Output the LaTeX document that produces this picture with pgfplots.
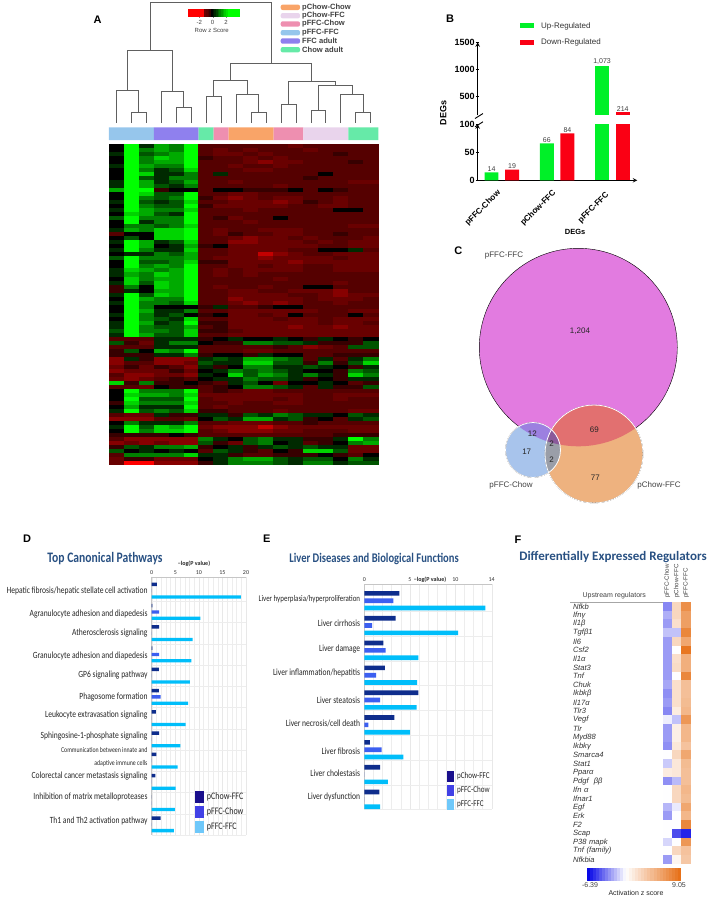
\documentclass[border=0pt]{standalone}
\usepackage{fontspec}
\usepackage{pgfplots}
\usepackage{pgfplotstable}
\pgfplotsset{compat=1.18}
\setmainfont{Liberation Sans}
\newfontfamily\calib{Carlito}
\newfontfamily\calibn[FakeStretch=0.8]{Carlito}
\newcommand\fs[1]{\fontsize{#1}{#1}\selectfont}
\definecolor{cUp}{RGB}{0,240,40}
\definecolor{cDown}{RGB}{250,0,20}
\definecolor{barA}{RGB}{14,45,140}
\definecolor{barB}{RGB}{60,95,240}
\definecolor{barC}{RGB}{0,190,250}
\definecolor{legA}{RGB}{25,15,140}
\definecolor{legB}{RGB}{65,65,230}
\definecolor{legC}{RGB}{110,200,250}
\definecolor{ttl}{RGB}{40,80,130}
\definecolor{bOrange}{RGB}{249,164,104}
\definecolor{bLilac}{RGB}{233,212,236}
\definecolor{bPink}{RGB}{238,143,176}
\definecolor{bBlue}{RGB}{150,198,236}
\definecolor{bPurple}{RGB}{143,128,238}
\definecolor{bMint}{RGB}{102,234,168}
\definecolor{vPink}{RGB}{226,123,224}
\definecolor{vBlue}{RGB}{168,196,236}
\definecolor{vOrange}{RGB}{238,178,127}
\definecolor{vPO}{RGB}{226,112,112}
\definecolor{vPB}{RGB}{156,128,224}
\definecolor{vBO}{RGB}{154,158,168}
\definecolor{vAll}{RGB}{138,90,154}

\pgfdeclareplotmark{cell}{\pgfpathrectanglecorners{\pgfpoint{-\cellw}{-\cellh}}{\pgfpoint{\cellw}{\cellh}}\pgfusepathqfill}
\pgfplotsset{
  box/.style n args={4}{anchor=north west, at={(#1pt,-#2pt)}, scale only axis, width=#3pt, height=#4pt},
  heat/.style={scatter, only marks, mark=cell, point meta=explicit, scatter/use mapped color={draw=none, fill=mapped color}},
  rg/.style={colormap={rg}{rgb255(0pt)=(255,0,0); rgb255(2pt)=(135,0,0); rgb255(3pt)=(105,0,0); rgb255(4pt)=(85,0,0); rgb255(5pt)=(55,0,0); rgb255(6pt)=(0,0,0); rgb255(12pt)=(0,255,0)}, point meta min=-6, point meta max=6},
  bwo/.style={colormap={bwo}{rgb255(0pt)=(0,0,230); rgb255(64pt)=(255,255,255); rgb255(154pt)=(230,110,20)}, point meta min=-6.39, point meta max=9.05},
  hbars/.style={
    xbar, y dir=reverse, axis x line*=top, axis y line*=left,
    axis line style={gray!45, line width=.4pt}, major tick length=0pt, minor tick length=0pt,
    ytick pos=left, xminorgrids, minor grid style={gray!14, line width=.3pt},
    xmajorgrids, major grid style={gray!18, line width=.3pt},
    /pgf/number format/assume math mode=true,
    xticklabel style={font=\calib\fs{6}, text=black!80, yshift=-1pt},
    yticklabel style={font=\calibn\fs{9.46}, align=right, inner sep=0pt, xshift=-4pt, text=black!85},
  },
}

% panel A heat map: one line per gene row, 18 samples
\pgfplotstableread{
r c0 c1 c2 c3 c4 c5 c6 c7 c8 c9 c10 c11 c12 c13 c14 c15 c16 c17
0 0 6 1 4 3 6 -2 -2 -2 -2 -2 -2 -3 -2 -2 -2 -2 -2
1 0 6 3 4 3 6 -2 -3 -2 -3 -2 -2 -2 -3 -2 -2 -2 -2
2 1 6 2 3 4 6 -2 -3 -3 -2 -3 -2 -2 -2 -2 -1 -2 -2
3 0 6 3 5 4 6 -1 -2 -2 -3 -2 -3 -2 -2 -2 -2 -2 -2
4 0 6 3 4 4 6 -2 -2 -2 -3 -4 -3 -3 -2 -2 -2 -1 -2
5 1 6 4 3 3 6 -2 -2 -3 -2 -2 -3 -2 -2 -2 -2 -2 -2
6 0 6 3 1 2 5 -2 -2 -2 -3 -3 -2 -2 -2 -2 -2 -2 -2
7 0 6 5 1 1 3 -2 1 -2 -2 -2 -2 -2 -2 0 -2 -2 -2
8 0 6 2 1 3 3 -2 -2 -2 -2 -2 -2 -2 -1 -2 -2 -2 -2
9 1 6 4 1 2 4 -2 -2 -3 -2 -2 -2 -2 -2 -2 -2 -3 -3
10 1 6 4 2 1 3 -2 -2 -2 -2 -2 -3 -2 -2 -2 -2 -2 -2
11 4 6 6 -1 0 0 -2 0 0 -1 -1 -1 0 -2 0 -1 -2 -2
12 0 6 5 2 2 6 -2 -2 -3 -3 -2 -2 -2 -2 -2 -2 -2 -2
13 0 6 3 2 3 6 -1 -3 -4 -3 -2 -3 -3 -2 -2 -3 -2 -2
14 1 6 2 1 2 5 -2 -2 -3 -3 -3 -4 -3 -1 -2 -3 -2 -2
15 0 6 3 2 2 6 -1 -3 -3 -3 -3 -3 -2 -2 -3 -3 -2 -2
16 1 6 4 3 3 5 -2 -2 -2 -3 -2 -2 -2 -2 -2 0 0 -2
17 0 5 4 2 1 6 -2 -2 -2 -2 -2 -2 -2 -2 -2 -2 -2 -2
18 2 6 3 3 3 6 -2 -1 -3 -2 -2 0 -2 -2 -2 -2 -2 -2
19 0 6 1 3 3 6 -2 -2 -2 -3 -2 -2 -2 -2 -2 -2 -2 -2
20 0 3 3 2 3 5 -2 -2 -2 -2 -2 -2 -2 -2 -2 -2 -3 -3
21 1 4 3 5 5 6 -2 -3 -2 -2 -3 -3 -3 -2 -2 -2 -2 -2
22 -2 0 0 5 5 6 -2 -3 -1 -2 -2 -3 -3 -2 -2 -1 -2 -2
23 0 2 0 5 5 6 -2 -2 -3 -4 -3 -3 -2 -3 -2 -2 -2 -3
24 1 6 4 1 2 5 -2 -2 -4 -4 -3 -3 -3 -2 -3 -2 -3 -3
25 0 6 4 0 1 4 -1 0 -3 -3 -3 -3 -3 -3 -2 -2 -3 -3
26 1 6 3 1 1 5 -2 -2 -3 -3 -3 -3 -2 -2 0 0 1 -2
27 0 1 1 3 2 4 -2 -2 -3 -3 -5 -4 -3 -2 -2 -3 -3 -3
28 2 6 3 3 3 4 -2 -3 -3 -3 -4 -3 -3 -3 -3 -2 -3 -3
29 0 6 2 2 3 5 -1 -1 -3 -3 -3 -3 -4 -3 -3 -3 -3 -3
30 0 6 3 4 3 6 -2 -2 -3 -3 -2 -3 -3 -2 -2 -3 -3 -3
31 1 5 4 3 4 6 -2 -3 -2 -3 -3 -3 -3 -2 -2 -3 -3 -3
32 1 4 3 5 4 6 -2 -3 -2 -3 -2 -2 -2 -2 -2 -2 -2 -2
33 0 5 3 4 4 6 -2 -2 -2 -2 -2 -3 -2 -2 -2 -2 -2 -2
34 1 5 2 5 4 6 -2 -2 -2 -2 -2 -2 -2 -2 -2 -3 -2 -2
35 -1 3 0 5 4 6 -2 -3 -2 -2 -3 -2 -2 0 0 -2 -2 -2
36 -1 1 0 4 4 6 -2 -2 -3 -3 -2 -2 -3 -3 -3 -4 -2 -2
37 1 6 2 5 4 6 -2 -2 -3 -3 -3 -3 -2 -2 -3 -4 -3 -3
38 0 6 4 3 3 6 -2 -2 -4 -3 -3 -3 -3 -2 -3 -3 -3 -2
39 1 6 3 3 2 5 -2 -2 -3 -4 -3 -4 -3 -2 -2 -3 -2 -2
40 0 6 3 0 0 0 -1 1 -2 -2 -1 0 0 -2 -2 -2 -2 -2
41 0 6 4 1 1 3 -2 -2 -3 -3 -3 -3 -3 -3 -2 -2 -3 -3
42 1 6 3 1 2 0 -1 0 -3 -3 -2 -3 0 -2 -2 -2 0 -2
43 0 6 3 2 1 5 -2 -2 -3 -3 -3 -2 -3 -3 -2 -3 -3 -3
44 1 6 4 1 2 6 -1 -1 -3 -3 -3 -3 -3 -3 -2 -3 -3 -2
45 1 6 3 2 2 4 -2 -1 -3 -3 -3 -3 -4 -3 -3 -4 -3 -3
46 2 6 3 3 2 5 -1 -1 -2 -3 -3 -3 -3 -3 -3 -3 -3 -3
47 1 6 4 2 2 5 -2 -2 -3 -3 -3 -3 -3 -3 -3 -3 -3 -3
48 -2 -2 -2 1 1 1 -1 0 1 0 0 1 0 -1 1 0 -1 0
49 2 -1 -3 1 3 3 0 -1 -1 3 3 2 2 1 -1 -1 -1 2
50 -2 -2 -2 1 1 1 -2 -2 -2 -2 -2 -1 -2 -4 -3 -2 2 2
51 -1 2 0 4 3 6 -2 -2 -2 -3 -3 -2 -2 -2 -2 -2 -2 -2
52 -1 -1 -1 1 1 3 -1 0 0 -1 1 0 0 -2 -2 -1 -1 -1
53 -4 1 -1 -4 -4 -4 1 2 1 4 4 3 2 -2 1 -2 1 3
54 -4 -2 -2 -4 -4 -3 2 1 1 5 5 2 2 -1 3 -1 2 5
55 -3 -1 -3 -1 -2 -4 1 -1 0 3 3 1 1 2 1 0 -1 1
56 -4 -3 -3 -3 -1 -3 0 1 3 2 3 2 1 0 0 -1 3 2
57 -2 -4 -4 -3 -3 -4 1 0 5 2 4 3 1 3 1 -1 5 3
58 -3 -4 -3 -2 -1 -2 0 1 1 3 2 2 1 -1 0 -1 1 1
59 5 -1 3 -1 -1 0 -1 -2 1 2 0 -3 0 0 1 0 -2 -1
60 -2 -2 -3 0 -1 -1 -2 -1 0 3 3 2 1 -2 1 -1 -1 2
61 0 6 3 3 3 6 -2 -1 -2 -3 -3 -2 -2 -2 -2 -2 -2 -2
62 0 5 4 4 3 5 -3 -3 -3 -3 -3 -3 -3 -2 -2 -3 -3 -3
63 0 6 2 2 2 6 -2 -3 -3 -3 -3 -2 -3 -2 -2 -3 -2 -2
64 -1 5 3 3 3 5 -2 -2 -3 -2 -2 -3 -3 -2 -2 -2 -2 -2
65 0 4 1 1 1 6 -2 -3 -2 -2 -2 -2 -2 -2 -2 -2 -2 -2
66 1 6 2 3 2 5 -1 -1 -2 -2 -2 -3 -2 -2 -2 -2 -3 -3
67 -2 -3 -3 1 -1 -1 1 1 -1 2 1 3 2 1 1 0 2 1
68 -4 -4 -4 -2 -2 -3 0 2 1 4 4 1 2 -1 0 -2 1 2
69 0 3 1 1 1 3 -2 -2 -3 -3 -3 -2 -2 -1 -2 -2 -2 -2
70 1 6 2 5 4 6 -3 -4 -4 -4 -5 -4 -3 -3 -3 -3 -3 -3
71 0 6 3 5 5 6 -2 -3 -4 -4 -4 -3 -3 -2 -2 -2 -3 -3
72 -1 -1 -1 -1 0 -1 -2 -2 -2 -2 -2 -2 -2 -2 -2 -1 -1 -1
73 -2 -4 -4 -4 -4 -4 3 1 0 2 3 1 1 -1 -1 1 6 3
74 -4 -3 -4 -3 -4 -4 2 -1 -3 2 3 0 1 -2 -1 0 3 4
75 -1 2 1 3 3 4 -1 0 1 -1 1 2 1 2 1 1 -3 -3
76 2 0 1 0 1 0 -2 2 1 -1 -2 0 -1 5 5 2 -3 -3
77 -2 3 3 3 3 5 1 1 -1 -2 -2 -1 -1 -1 0 -1 -2 0
78 -3 -1 -1 -3 -3 -3 0 1 3 4 4 2 1 2 2 0 3 1
79 -3 -6 -6 -4 -4 -4 -1 1 3 3 3 2 1 3 3 1 2 2
}\heatA

% panel F: pFFC-Chow, pChow-FFC, pFFC-FFC
\pgfplotstableread{
r c0 c1 c2
0 -3 2.5 7
1 -2 2.5 6
2 -2.5 2 6
3 -1.5 -1.5 7.5
4 -2.5 2.5 5.5
5 -2.5 0 8.5
6 -2.5 2 5
7 -2.5 2.2 5
8 -2.5 0 7.5
9 -2.2 2 4
10 -2.8 2 4
11 -2.5 2 4.2
12 -3 1.2 4.5
13 -0.4 -1.5 6.5
14 -2.5 1 4.5
15 -2.5 1 4.5
16 -2.8 1.5 3.8
17 0 2.5 5.5
18 -1.3 1.5 4.2
19 1.2 1.5 4
20 -2.8 -1.7 4
21 0 2.5 4.5
22 0 2.5 4.2
23 -1.8 -0.5 5.5
24 -2.5 0 4.5
25 0 0 7.5
26 0 -4.5 -5.5
27 -1 0 6.5
28 0 2.5 3.8
29 -2.5 0.6 3.5
}\heatF

\begin{document}
\begin{tikzpicture}
\path[use as bounding box] (0,0) rectangle (709pt,-898pt);

% ---------- A ----------
\node[font=\bfseries\fs{11}] at (97.7pt,-19.3pt) {A};

% dendrogram
\begin{axis}[box={108.9}{2.7}{269.4}{120}, hide axis, xmin=-0.5, xmax=17.5, ymin=0, ymax=120, clip=false]
\addplot[gray!75!black, line width=.9pt, unbounded coords=jump] table {
x y
1 0
1 10
2 10
2 0
nan nan
0 0
0 32.3
1.5 32.3
1.5 10
nan nan
4 0
4 15.3
5 15.3
5 0
nan nan
3 0
3 31
4.5 31
4.5 15.3
nan nan
0.75 32.3
0.75 72.3
3.75 72.3
3.75 31
nan nan
6 0
6 26
7 26
7 0
nan nan
9 0
9 10
10 10
10 0
nan nan
8 0
8 28
9.5 28
9.5 10
nan nan
6.5 26
6.5 42.7
8.75 42.7
8.75 28
nan nan
11 0
11 18
12 18
12 0
nan nan
13 0
13 12
14 12
14 0
nan nan
16 0
16 10.7
17 10.7
17 0
nan nan
15 0
15 28
16.5 28
16.5 10.7
nan nan
13.5 12
13.5 37
15.75 37
15.75 28
nan nan
11.5 18
11.5 41.3
14.625 41.3
14.625 37
nan nan
7.625 42.7
7.625 59
13.06 59
13.06 41.3
nan nan
2.25 72.3
2.25 120
10.34 120
10.34 59
};
\end{axis}

% sample colour band
\begin{axis}[box={108.9}{127.3}{269.4}{12.7}, hide axis, xmin=-0.5, xmax=17.5, ymin=0, ymax=1]
\addplot[fill=bBlue, draw=none] coordinates {(-0.5,0)(2.5,0)(2.5,1)(-0.5,1)} \closedcycle;
\addplot[fill=bPurple, draw=none] coordinates {(2.5,0)(5.5,0)(5.5,1)(2.5,1)} \closedcycle;
\addplot[fill=bMint, draw=none] coordinates {(5.5,0)(6.5,0)(6.5,1)(5.5,1)} \closedcycle;
\addplot[fill=bPink, draw=none] coordinates {(6.5,0)(7.5,0)(7.5,1)(6.5,1)} \closedcycle;
\addplot[fill=bOrange, draw=none] coordinates {(7.5,0)(10.5,0)(10.5,1)(7.5,1)} \closedcycle;
\addplot[fill=bPink, draw=none] coordinates {(10.5,0)(12.5,0)(12.5,1)(10.5,1)} \closedcycle;
\addplot[fill=bLilac, draw=none] coordinates {(12.5,0)(15.5,0)(15.5,1)(12.5,1)} \closedcycle;
\addplot[fill=bMint, draw=none] coordinates {(15.5,0)(17.5,0)(17.5,1)(15.5,1)} \closedcycle;
\end{axis}

% heat map
\def\cellw{7.7pt}\def\cellh{2.1pt}
\begin{axis}[box={108.9}{144.3}{269.4}{320.7}, hide axis, xmin=-0.5, xmax=17.5, ymin=-0.5, ymax=79.5, y dir=reverse, rg]
\pgfplotsinvokeforeach{0,...,17}{
  \addplot[heat] table[x expr=#1, y=r, meta=c#1] {\heatA};
}
\addplot[draw={rgb,255:red,130;green,90;blue,90}, line width=.5pt] coordinates {(5.5,6.6)(17.5,6.6)};
\addplot[draw={rgb,255:red,130;green,90;blue,90}, line width=.5pt] coordinates {(5.5,19.1)(17.5,19.1)};
\addplot[draw={rgb,255:red,130;green,90;blue,90}, line width=.5pt] coordinates {(5.5,31.6)(17.5,31.6)};
\end{axis}

% row z score key
\def\cellw{1.1pt}\def\cellh{3.7pt}
\begin{axis}[box={187.7}{9.3}{51.6}{7.4}, xmin=-3.75, xmax=4, ymin=-.5, ymax=.5, rg,
  axis y line=none, axis x line=bottom, x axis line style={draw=none}, xtick={-2,0,2},
  major tick length=2pt, tick style={gray}, xticklabel style={font=\fs{6}, text=black!75, yshift=1pt},
  /pgf/number format/assume math mode=true, clip=false]
\addplot[heat] coordinates {(-3.6,0)[-6](-3.35,0)[-6](-3.1,0)[-6](-2.85,0)[-6](-2.6,0)[-6](-2.35,0)[-6](-2.1,0)[-6](-1.85,0)[-6](-1.6,0)[-6](-1.35,0)[-6](-1.1,0)[-3](-.85,0)[-2.4](-.6,0)[-1.8](-.35,0)[-1](-.1,0)[0](.15,0)[.5](.4,0)[1](.65,0)[1.6](.9,0)[2.4](1.15,0)[3](1.4,0)[3.6](1.65,0)[4.2](1.9,0)[4.8](2.15,0)[5.4](2.4,0)[6](2.65,0)[6](2.9,0)[6](3.15,0)[6](3.4,0)[6](3.65,0)[6](3.9,0)[6]};
\end{axis}
\node[font=\fs{6}, text=black!75] at (211.7pt,-30.7pt) {Row z Score};

% sample legend
\foreach \yy/\cc/\tt in {7.3/bOrange/pChow-Chow, 15.7/bLilac/pChow-FFC, 24/bPink/pFFC-Chow, 32.7/bBlue/pFFC-FFC, 41/bPurple/FFC adult, 49.7/bMint/Chow adult}{
  \fill[\cc, rounded corners=2pt] (280.7pt,-\yy pt-2.7pt) rectangle (300pt,-\yy pt+2.7pt);
  \node[anchor=west, inner sep=0pt, font=\bfseries\fs{7.6}, text=black!75] at (302pt,-\yy pt) {\tt};
}

% ---------- B ----------
\node[font=\bfseries\fs{11}] at (450pt,-19pt) {B};
\fill[cUp] (520pt,-23.3pt) rectangle (534pt,-28.3pt);
\fill[cDown] (520pt,-39.7pt) rectangle (534pt,-44.7pt);
\node[anchor=west, inner sep=0pt, font=\fs{8}, text=black!80] at (541pt,-26pt) {Up-Regulated};
\node[anchor=west, inner sep=0pt, font=\fs{8}, text=black!80] at (541pt,-42.3pt) {Down-Regulated};

\pgfplotsset{
  degs/.style={
    xmin=-0.434, xmax=2.452, ybar,
    axis line style={-, line width=1pt}, tick style={line width=.9pt, black},
    major tick length=3.5pt, tick align=outside,
    /pgf/number format/assume math mode=true,
    yticklabel style={font=\bfseries\fs{9}, inner sep=1pt},
    nodes near coords style={font=\fs{7}, text=black!75, inner sep=.8pt},
  },
}
\begin{axis}[box={477.7}{124.3}{159.6}{56}, degs, ymin=0, ymax=100, ytick={0,50,100},
  axis x line=bottom, axis y line=left, xtick={0,1,2}, xticklabels={pFFC-Chow,pChow-FFC,pFFC-FFC},
  x tick style={draw=none},
  xticklabel style={xshift=-18.7pt, yshift=-26pt, rotate=45, anchor=center, font=\bfseries\fs{8.2}, inner sep=0pt},
  xlabel={DEGs}, xlabel style={font=\bfseries\fs{7.5}, at={(axis description cs:0.61,0)}, anchor=center, yshift=-51.7pt}]
\addplot[fill=cUp, draw=none, bar width=13.9pt, bar shift=-10.2pt, nodes near coords] coordinates {(0,14)(1,66)};
\addplot[fill=cDown, draw=none, bar width=13.9pt, bar shift=10.4pt, nodes near coords] coordinates {(0,19)(1,84)};
\addplot[fill=cUp, draw=none, bar width=13.9pt, bar shift=-10.2pt] coordinates {(2,1073)};
\addplot[fill=cDown, draw=none, bar width=13.9pt, bar shift=10.4pt] coordinates {(2,214)};
\end{axis}
\begin{axis}[box={477.7}{42.3}{159.6}{73}, degs, ymin=160, ymax=1500, ytick={500,1000,1500},
  axis x line=none, axis y line=left,
  /pgf/number format/.cd, 1000 sep={}]
\addplot[fill=cUp, draw=none, bar width=13.9pt, bar shift=-10.2pt, nodes near coords,
  nodes near coords style={/pgf/number format/.cd, 1000 sep={,}}] coordinates {(2,1073)};
\addplot[fill=cDown, draw=none, bar width=13.9pt, bar shift=10.4pt, nodes near coords] coordinates {(2,214)};
\end{axis}
\fill[white] (476pt,-117.5pt) rectangle (479.5pt,-123.5pt);
\draw[line width=.9pt] (475pt,-118.5pt) -- (483pt,-113.5pt);
\draw[line width=.9pt] (475pt,-126.8pt) -- (483pt,-121.8pt);
\node[rotate=90, font=\bfseries\fs{9}] at (443.3pt,-113pt) {DEGs};

% ---------- C ----------
\node[font=\bfseries\fs{11}] at (458.3pt,-251pt) {C};
\begin{axis}[box={430}{240}{279}{290}, hide axis, xmin=430, xmax=709, ymin=240, ymax=530, y dir=reverse, clip=false]
\addplot[only marks, mark=*, mark size=99pt, mark options={fill=vPink, draw=none}] coordinates {(578.3,347.3)};
\addplot[only marks, mark=*, mark size=27.5pt, mark options={fill=vBlue, draw=none}] coordinates {(533,450)};
\addplot[only marks, mark=*, mark size=49pt, mark options={fill=vOrange, draw=none}] coordinates {(594,454)};
\end{axis}
\begin{axis}[box={430}{240}{279}{290}, hide axis, xmin=430, xmax=709, ymin=240, ymax=530, y dir=reverse, clip=false]
\pgfplotsextra{
  \begin{scope}\clip (axis cs:578.3,347.3) circle[radius=99];
    \fill[vPO] (axis cs:594,454) circle[radius=49];
    \fill[vPB] (axis cs:533,450) circle[radius=27.5];
  \end{scope}
  \begin{scope}\clip (axis cs:594,454) circle[radius=49];
    \fill[vBO] (axis cs:533,450) circle[radius=27.5];
    \clip (axis cs:533,450) circle[radius=27.5];
    \fill[vAll] (axis cs:578.3,347.3) circle[radius=99];
  \end{scope}
  \draw[white, line width=.8pt] (axis cs:594,454) circle[radius=49];
  \draw[white, line width=.8pt] (axis cs:533,450) circle[radius=27.5];
}
\end{axis}
\foreach \xx/\yy/\tt in {504/256/pFFC-FFC, 511/485.7/pFFC-Chow, 659/485.7/pChow-FFC}{
  \node[font=\fs{8}, text=black!75] at (\xx pt,-\yy pt) {\tt};
}
\foreach \xx/\yy/\tt in {580/331/{1,204}, 532.3/434/12, 526.7/451.3/17, 551.7/443.3/2, 551.7/460/2, 594.3/429.3/69, 595.3/477.7/77}{
  \node[font=\fs{8}, text=black!85] at (\xx pt,-\yy pt) {\tt};
}

% ---------- D ----------
\node[font=\bfseries\fs{11}] at (27pt,-539pt) {D};
\node[font=\calibn\bfseries\fs{14.5}, text=ttl] at (105pt,-559pt) {Top Canonical Pathways};
\node[font=\calib\bfseries\fs{6}, text=black!85] at (194pt,-563.7pt) {−log(P value)};
\begin{axis}[box={151.7}{576.7}{94.3}{258.3}, hbars, xmin=0, xmax=20, ymin=-0.66, ymax=11.5,
  xtick={0,5,10,15,20}, minor x tick num=4,
  ytick={0.02,1.08,2.01,3.08,3.97,4.99,5.87,6.82,7.82,8.72,9.72,10.84},
  minor ytick={0.5,1.5,2.5,3.5,4.5,5.5,6.5,7.5,8.5,9.5,10.5,11.5},
  yminorgrids,
  yticklabels={
    Hepatic fibrosis/hepatic stellate cell activation,
    Agranulocyte adhesion and diapedesis,
    Atherosclerosis signaling,
    Granulocyte adhesion and diapedesis,
    GP6 signaling pathway,
    Phagosome formation,
    Leukocyte extravasation signaling,
    Sphingosine-1-phosphate signaling,
    {\fs{7.3}Communication between innate and\\[3pt]\fs{7.3}adaptive immune cells},
    Colorectal cancer metastasis signaling,
    Inhibition of matrix metalloproteases,
    Th1 and Th2 activation pathway}]
\addplot[fill=barA, draw=none, bar width=3.4pt, bar shift=6.3pt] coordinates {(1.1,0)(0.15,1)(1.6,2)(0.15,3)(1.5,4)(1.5,5)(0.9,6)(1.6,7)(1.0,8)(0.8,9)(0,10)(1.9,11)};
\addplot[fill=barB, draw=none, bar width=3.4pt, bar shift=0pt] coordinates {(0,0)(1.6,1)(0,2)(1.6,3)(0,4)(1.9,5)(0,6)(0,7)(0,8)(0,9)(0,10)(0,11)};
\addplot[fill=barC, draw=none, bar width=3.4pt, bar shift=-6.3pt] coordinates {(18.9,0)(10.3,1)(8.7,2)(8.4,3)(8.1,4)(7.7,5)(7.2,6)(6.1,7)(5.5,8)(5.1,9)(4.9,10)(4.7,11)};
\end{axis}
\foreach \yy/\cc/\tt in {790.7/legA/pChow-FFC, 806/legB/pFFC-Chow, 821/legC/pFFC-FFC}{
  \fill[\cc] (194.7pt,-\yy pt) rectangle (204pt,-\yy pt-12.4pt);
  \node[anchor=west, inner sep=0pt, font=\calibn\fs{10}, text=black!85] at (206.7pt,-\yy pt-6.2pt) {\tt};
}

% ---------- E ----------
\node[font=\bfseries\fs{11}] at (266.7pt,-539pt) {E};
\node[font=\calibn\bfseries\fs{13.2}, text=ttl] at (374pt,-558.7pt) {Liver Diseases and Biological Functions};
\begin{axis}[box={364.3}{584.3}{127.4}{225}, hbars, xmin=0, xmax=14, ymin=-0.66, ymax=8.4,
  xtick={0,5,10,14}, minor xtick={1,2,3,4,6,7,8,9,11,12,13},
  ytick={-0.05,0.89,1.96,2.91,4.0,4.94,6.08,6.95,7.92},
  minor ytick={0.42,1.42,2.42,3.42,4.42,5.42,6.42,7.42,8.4},
  yminorgrids,
  yticklabels={
    \fs{8.7}Liver hyperplasia/hyperproliferation,
    Liver cirrhosis,
    Liver damage,
    Liver inflammation/hepatitis,
    Liver steatosis,
    Liver necrosis/cell death,
    Liver fibrosis,
    Liver cholestasis,
    Liver dysfunction}]
\addplot[fill=barA, draw=none, bar width=4.7pt, bar shift=7.33pt] coordinates {(3.85,0)(3.45,1)(2.1,2)(2.25,3)(5.95,4)(3.3,5)(0.6,6)(1.75,7)(1.65,8)};
\addplot[fill=barB, draw=none, bar width=4.7pt, bar shift=0pt] coordinates {(3.2,0)(0.85,1)(2.35,2)(1.3,3)(1.75,4)(0.45,5)(1.9,6)(0,7)(0,8)};
\addplot[fill=barC, draw=none, bar width=4.7pt, bar shift=-7.33pt] coordinates {(13.3,0)(10.3,1)(5.95,2)(5.8,3)(5.75,4)(5.0,5)(4.3,6)(2.6,7)(1.75,8)};
\end{axis}
\node[font=\calib\bfseries\fs{6}, text=black!85] at (430pt,-580pt) {−log(P value)};
\foreach \yy/\cc/\tt in {770.7/legA/pChow-FFC, 785/legB/pFFC-Chow, 798.7/legC/pFFC-FFC}{
  \fill[\cc] (446.7pt,-\yy pt) rectangle (454.3pt,-\yy pt-11pt);
  \node[anchor=west, inner sep=0pt, font=\calibn\fs{8.9}, text=black!85] at (457pt,-\yy pt-5.5pt) {\tt};
}

% ---------- F ----------
\node[font=\bfseries\fs{11}] at (518pt,-540pt) {F};
\node[font=\calib\bfseries\fs{13}, text=ttl] at (613pt,-557pt) {Differentially Expressed Regulators};
\node[font=\fs{7}, text=black!75] at (614.3pt,-595.7pt) {Upstream regulators};
\draw[gray!70, line width=.5pt] (570pt,-602pt) -- (662.7pt,-602pt);
\foreach \xx/\tt in {667.3/pFFC-Chow, 676.7/pChow-FFC, 686/pFFC-FFC}{
  \node[rotate=90, anchor=west, inner sep=0pt, font=\fs{6.2}, text=black!75] at (\xx pt,-598pt) {\tt};
}
\def\cellw{4.8pt}\def\cellh{4.5pt}
\begin{axis}[box={662.7}{602}{28}{262}, xmin=-.5, xmax=2.5, ymin=-.5, ymax=29.5, y dir=reverse, bwo,
  axis x line=none, axis y line=left, y axis line style={draw=none}, major tick length=0pt,
  ytick={0,...,29},
  yticklabels={Nfkb,Ifnγ,Il1β,Tgfβ1,Il6,Csf2,Il1α,Stat3,Tnf,Chuk,Ikbkβ,Il17α,Tlr3,Vegf,Tlr,Myd88,Ikbkγ,Smarca4,Stat1,Pparα,Pdgf\ \ ββ,Ifn α,Ifnar1,Egf,Erk,F2,Scap,P38 mapk,Tnf (family),Nfkbia},
  yticklabel style={font=\itshape\fs{7.6}, text=black!80, text width=85pt, align=left, inner sep=0pt, xshift=-4.4pt}]
\pgfplotsinvokeforeach{0,1,2}{
  \addplot[heat] table[x expr=#1, y=r, meta=c#1] {\heatF};
}
\end{axis}
\def\cellw{1.7pt}\def\cellh{6.2pt}
\begin{axis}[box={587.3}{868.3}{93.7}{12.4}, hide axis, xmin=-6.39, xmax=9.05, ymin=-.5, ymax=.5, bwo]
\addplot[scatter, only marks, mark=cell, point meta=x, scatter/use mapped color={draw=none, fill=mapped color}] coordinates {
(-6.2,0)(-5.7,0)(-5.2,0)(-4.7,0)(-4.2,0)(-3.7,0)(-3.2,0)(-2.7,0)(-2.2,0)(-1.7,0)(-1.2,0)(-0.7,0)(-0.2,0)(0.3,0)(0.8,0)(1.3,0)(1.8,0)(2.3,0)(2.8,0)(3.3,0)(3.8,0)(4.3,0)(4.8,0)(5.3,0)(5.8,0)(6.3,0)(6.8,0)(7.3,0)(7.8,0)(8.3,0)(8.85,0)};
\end{axis}
\node[font=\fs{7}, text=black!75] at (590pt,-885pt) {-6.39};
\node[font=\fs{7}, text=black!75] at (679pt,-885pt) {9.05};
\node[font=\fs{7}, text=black!85] at (636pt,-893pt) {Activation z score};
\end{tikzpicture}
\end{document}
